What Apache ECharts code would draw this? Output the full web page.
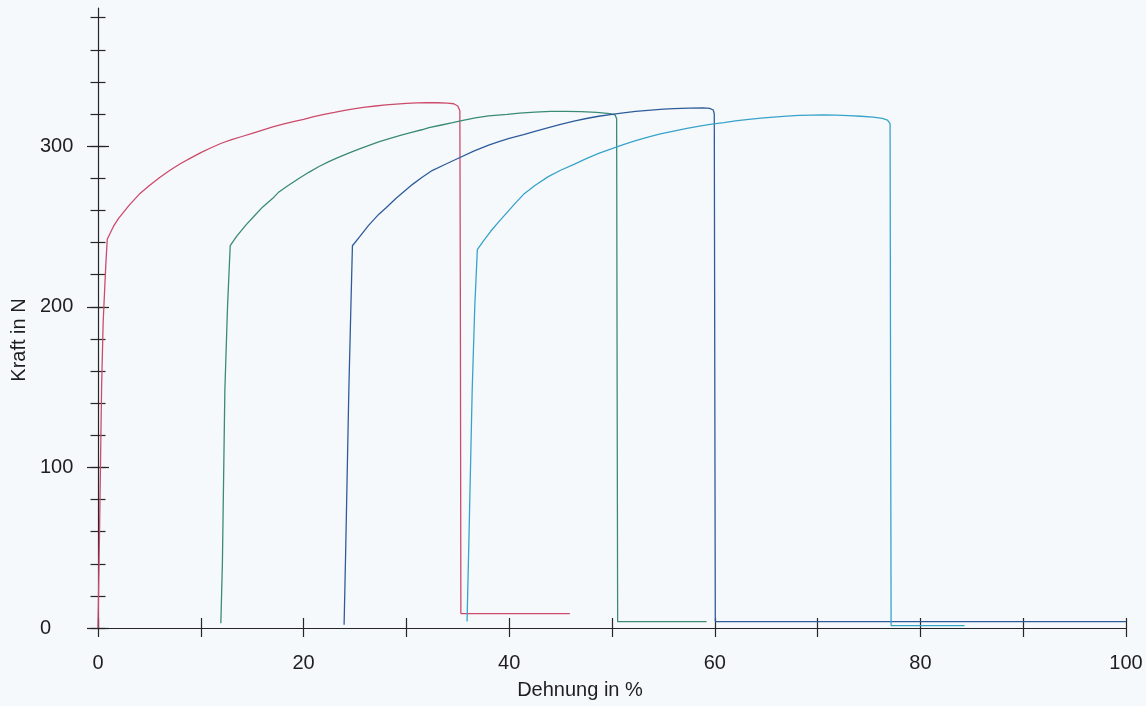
<!DOCTYPE html>
<html><head><meta charset="utf-8">
<script src="https://cdn.jsdelivr.net/npm/echarts@6/dist/echarts.min.js"></script>
<style>html,body{margin:0;padding:0;background:#f6f9fc}#c{width:1146px;height:706px}</style>
</head><body><div id="c"></div>
<script>
// Dehnung (x, %) and Kraft (y, N) for four specimens
const redX   = [0,0.15,0.35,0.5,0.75,0.9,1.5,2,3,4,5,6,7,8,9,10,11,12,13,14,15,16,17,18,19,20,21,22,23,24,25,26,27,28,29,30,31,32,33,34,34.6,35,35.2,35.25,35.3,45.9];
const redY   = [0,60,150,190,225,242,250,255,263,270,275.5,280.5,285,289,292.5,296,299,301.8,304,306,308,310,312,313.7,315.2,316.7,318.3,319.8,321,322.3,323.3,324.3,325,325.7,326.2,326.6,326.9,327,327,326.8,326.4,325,322,200,9,9];
const greenX = [11.95,12.1,12.34,12.6,12.86,13.5,14.4,15.2,16,17,17.6,18.5,19.5,20.5,21.5,22.5,23.5,24.5,25.5,26.5,27.3,28.5,29.5,30.5,31.5,32.2,33.3,34.5,35.5,36.7,38,39.8,41,42.5,44,45.5,47,48.5,49.8,50.3,50.45,50.5,50.55,59.2];
const greenY = [3,40,148,200,238,244,251,256.5,262,267.5,271.5,275.5,279.7,283.7,287.3,290.5,293.3,296,298.5,300.8,302.6,305,306.8,308.5,310.2,311.5,313,314.6,316,317.6,318.8,319.8,320.5,321.2,321.6,321.7,321.5,321,320.3,319.5,317,150,4,4];
const blueX  = [23.94,24.1,24.4,24.6,24.75,25.5,26.3,27.3,28,29,30,30.6,31.5,32.5,33.8,35,36.6,38,39,40,41.4,42.5,44,45,46.3,47.5,48.7,50,51.1,52.3,53.5,55,56,57.5,58.9,59.5,59.85,59.95,60,60.05,100];
const blueY  = [2,50,148,200,238,244,250.5,257.5,261.5,267.5,273,276.2,280.5,284.8,288.7,292.3,297,300.6,302.8,304.9,307.2,309.2,311.8,313.5,315.6,317.2,318.6,319.8,320.7,321.6,322.3,323,323.4,323.7,323.8,323.5,322.5,320,150,4,4];
const cyanX  = [35.9,36.1,36.4,36.65,36.9,37.5,38.2,39,39.8,40.6,41.4,42.5,43.8,45,46.3,47.5,48.7,50,51.1,52.3,53.5,54.7,56,57.3,58.5,59.7,60.9,62,63.3,64.5,65.7,67,68.2,69.4,70.6,71.8,73,74.2,75.4,76.3,76.8,77.05,77.1,77.15,84.3];
const cyanY  = [4,60,148,200,235.5,241,247,253,258.8,264.5,270,275.5,281,285,288.7,292.2,295.5,298.5,301,303.4,305.6,307.6,309.4,311,312.5,313.7,314.7,315.7,316.6,317.4,318.1,318.7,319.1,319.3,319.4,319.3,319,318.6,318.1,317.3,316.2,314,150,1.5,1.5];
const xTickLabels = [0,20,40,60,80,100];
const yTickLabels = [0,100,200,300];

const zip = (xs, ys) => xs.map((x, i) => [x, ys[i]]);
const FONT = 'Liberation Sans';
const AX = '#262626';
const TXT = '#1e1e1e';
const tickStyle = {color: AX, width: 1.2};

const chart = echarts.init(document.getElementById('c'), null, {renderer: 'canvas'});
const G = {left: 98, right: 20, bottom: 78};
const hiddenX = g => ({gridIndex: g, type: 'value', min: 0, max: 100, show: false});
const line = (name, xs, ys, color) => ({
  name, type: 'line', xAxisIndex: 0, yAxisIndex: 0, data: zip(xs, ys),
  showSymbol: false, symbol: 'none', animation: false,
  lineStyle: {color, width: 1.3}
});

chart.setOption({
  backgroundColor: '#f6f9fc',
  animation: false,
  grid: [
    Object.assign({top: 8}, G),
    Object.assign({top: 8 + 6 * 620 / 386}, G),
    Object.assign({top: 8 + 86 * 620 / 386}, G)
  ],
  xAxis: [
    {gridIndex: 0, type: 'value', min: 0, max: 100, interval: 10, position: 'bottom',
     axisLine: {show: true, onZero: false, lineStyle: {color: AX, width: 1.2}},
     axisTick: {show: true, inside: false, length: 9, lineStyle: tickStyle},
     axisLabel: {margin: 25, color: TXT, fontFamily: FONT, fontSize: 20,
       formatter: v => xTickLabels.includes(v) ? String(v) : ''},
     splitLine: {show: false},
     name: 'Dehnung in %', nameLocation: 'middle', nameGap: 52,
     nameTextStyle: {color: TXT, fontFamily: FONT, fontSize: 20, padding: [0, 64, 0, 0]}},
    {gridIndex: 0, type: 'value', min: 0, max: 100, interval: 10, position: 'bottom',
     axisLine: {show: false}, axisTick: {show: true, inside: true, length: 10, lineStyle: tickStyle},
     axisLabel: {show: false}, splitLine: {show: false}},
    hiddenX(1), hiddenX(2)
  ],
  yAxis: [
    {gridIndex: 0, type: 'value', min: 0, max: 386, position: 'left',
     axisLine: {show: true, onZero: false, lineStyle: {color: AX, width: 1.2}},
     axisTick: {show: false}, axisLabel: {show: false}, splitLine: {show: false},
     name: 'Kraft in N', nameLocation: 'middle', nameGap: 69,
     nameTextStyle: {color: TXT, fontFamily: FONT, fontSize: 20, padding: [0, 44, 0, 0]}},
    {gridIndex: 1, type: 'value', min: 0, max: 380, interval: 20, position: 'left',
     axisLine: {show: false}, axisTick: {show: true, inside: false, length: 7.5, lineStyle: tickStyle},
     axisLabel: {show: false}, splitLine: {show: false}},
    {gridIndex: 1, type: 'value', min: 0, max: 380, interval: 20, position: 'left',
     axisLine: {show: false}, axisTick: {show: true, inside: true, length: 7.5, lineStyle: tickStyle},
     axisLabel: {show: false}, splitLine: {show: false}},
    {gridIndex: 2, type: 'value', min: 0, max: 300, interval: 100, position: 'left',
     axisLine: {show: false}, axisTick: {show: true, inside: false, length: 11, lineStyle: tickStyle},
     axisLabel: {margin: 58, align: 'left', color: TXT, fontFamily: FONT, fontSize: 20,
       formatter: v => yTickLabels.includes(v) ? String(v) : ''},
     splitLine: {show: false}},
    {gridIndex: 2, type: 'value', min: 0, max: 300, interval: 100, position: 'left',
     axisLine: {show: false}, axisTick: {show: true, inside: true, length: 11, lineStyle: tickStyle},
     axisLabel: {show: false}, splitLine: {show: false}}
  ],
  series: [
    line('Probe 1', redX, redY, '#cc4b6b'),
    line('Probe 2', greenX, greenY, '#3a8a76'),
    line('Probe 3', blueX, blueY, '#2e5c9a'),
    line('Probe 4', cyanX, cyanY, '#37a3ca')
  ]
});
</script>
</body></html>
